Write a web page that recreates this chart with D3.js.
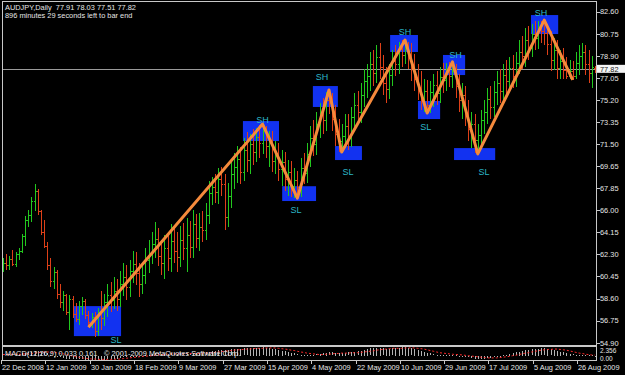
<!DOCTYPE html>
<meta charset="utf-8">
<title>AUDJPY,Daily</title>
<style>

body {
  margin: 0;
  background: #000;
}

svg {
  display: block;
  font-family: "Liberation Sans", Arial, sans-serif;
}

.lbl {
  font-size: 7.4px;
  fill: #e6e6e6;
}

.small {
  font-size: 6.5px;
  fill: #e6e6e6;
}

.bars rect,
.hist rect,
.frame {
  shape-rendering: crispEdges;
}

.swing-label {
  font-size: 9px;
  fill: #2cb6c8;
  text-anchor: middle;
}

</style>
<svg width="625" height="375"></svg>
<script src="https://cdnjs.cloudflare.com/ajax/libs/d3/7.8.5/d3.min.js"></script>
<script>

var headerTitle = "AUDJPY,Daily";
var headerQuote = "77.91 78.03 77.51 77.82";
var headerTimer = "896 minutes 29 seconds left to bar end";
var macdTitle = "MACD(12,26,9) 0.033 0.161";
var copyrightText = "\u00a9 2001-2009 MetaQuotes Software Corp.";

// daily bars, 22 Dec 2008 .. early Sep 2009
var opens = [
  61.3,61.6,61.4,61.9,61.5,62.3,62.6,63.8,65.2,65.6,
  66.8,67.6,65.9,64.2,63.0,61.4,60.1,60.8,59.0,58.3,
  58.9,57.5,58.6,57.3,56.9,58.0,58.4,57.2,56.6,57.1,
  55.9,57.3,57.0,58.3,58.9,58.5,59.2,58.6,59.8,60.4,
  59.6,60.9,61.5,60.7,59.8,60.6,61.8,62.4,63.2,63.6,
  62.2,61.6,62.8,62.0,63.4,62.6,62.1,63.5,62.8,63.9,
  62.9,64.8,63.7,64.6,64.3,65.6,67.4,67.9,67.5,68.6,
  68.2,65.4,67.2,69.0,69.6,70.3,69.2,71.0,70.2,71.5,
  70.9,72.1,71.6,72.6,71.4,71.8,70.1,70.8,69.4,70.0,
  68.6,69.2,68.0,68.5,67.9,69.5,69.1,70.7,72.0,71.5,
  73.2,74.0,73.5,75.2,75.0,73.6,72.4,71.8,72.2,73.0,
  72.1,73.8,74.8,74.2,75.6,76.8,77.2,78.2,77.5,78.8,
  78.0,76.6,76.1,77.3,78.5,78.2,79.5,79.0,79.8,78.7,
  77.9,77.0,76.2,75.4,76.0,74.8,75.9,76.5,75.8,77.1,
  76.9,77.7,77.2,77.6,76.4,75.2,75.6,74.0,72.8,73.2,
  71.9,72.3,73.5,74.2,75.3,74.6,75.9,76.6,76.0,77.3,
  76.8,77.9,77.2,78.3,79.2,78.9,80.2,79.6,80.7,80.4,
  81.3,81.0,80.8,79.9,78.6,79.4,77.9,78.5,77.7,77.2,
  77.6,77.2,78.3,78.9,79.2,78.2,77.5,77.91
];
var highs = [
  62.0,62.3,62.2,62.7,62.5,62.8,64.0,65.5,66.0,67.1,
  68.2,67.8,66.0,65.2,63.3,62.0,61.2,61.0,59.8,59.2,
  59.0,58.9,58.8,58.2,58.4,58.7,58.6,57.6,57.4,57.5,
  57.8,59.2,59.0,59.8,60.0,60.4,60.2,60.9,61.6,61.4,
  61.8,62.6,62.5,61.6,61.6,62.8,63.5,64.2,65.0,64.5,
  63.5,63.9,64.0,64.8,64.5,64.2,64.7,64.9,65.3,65.1,
  66.0,65.7,65.8,65.9,66.6,68.4,68.8,69.0,69.5,69.6,
  69.0,68.3,70.0,70.8,71.4,71.3,72.0,72.5,72.4,72.8,
  72.9,73.1,73.2,73.0,72.6,72.6,71.8,71.6,71.0,70.9,
  70.2,70.1,69.5,69.3,70.4,70.8,71.6,73.0,73.5,74.2,
  75.0,75.4,75.9,76.05,75.8,74.8,73.6,73.2,74.0,74.0,
  74.6,75.8,76.0,76.6,77.8,78.2,79.2,79.4,79.8,80.0,
  79.0,78.0,78.2,79.4,79.8,80.1,80.2,80.23,80.1,80.0,
  79.1,78.2,77.6,77.0,76.9,76.8,77.4,77.6,78.0,78.3,
  78.3,78.4,78.4,78.2,77.4,76.6,76.4,75.2,74.2,74.0,
  73.2,74.4,75.2,76.2,76.4,76.8,77.6,77.8,78.2,78.6,
  78.8,79.0,79.2,80.2,80.6,81.2,81.4,81.6,81.8,81.85,
  81.85,81.9,81.6,81.0,80.4,80.2,79.4,79.6,78.8,78.6,
  78.5,79.2,79.8,80.0,79.8,79.4,78.9,78.03
];
var lows = [
  60.8,61.0,61.0,61.3,61.2,61.8,62.4,63.0,64.6,65.0,
  65.9,65.6,63.9,62.8,61.0,59.6,59.4,58.6,57.8,57.6,
  57.2,56.0,57.0,56.6,56.4,57.2,56.9,56.2,56.1,55.4,
  55.5,56.0,56.3,57.1,57.5,57.7,57.6,57.9,58.8,58.5,
  58.7,59.9,59.7,58.7,59.0,59.8,60.7,61.5,62.0,61.3,
  60.6,60.2,60.9,60.8,61.6,60.8,61.2,61.8,60.8,62.0,
  62.0,62.8,62.6,63.3,63.5,64.8,66.4,66.6,66.5,67.2,
  64.3,64.6,66.2,67.8,68.3,68.2,68.4,69.2,69.0,69.8,
  70.0,70.4,70.7,70.4,69.6,69.2,69.0,68.4,68.0,67.6,
  67.2,67.1,67.05,67.0,67.1,68.2,68.3,69.6,70.5,70.6,
  72.0,72.4,72.6,74.0,72.6,71.4,70.9,70.86,71.2,71.0,
  71.3,72.8,73.2,73.3,74.6,75.4,76.0,76.4,76.6,77.0,
  75.6,75.0,75.3,76.4,77.2,77.4,78.0,78.2,77.8,76.8,
  76.0,75.2,74.4,74.2,74.12,74.13,74.6,74.8,75.0,75.8,
  76.0,76.3,76.2,75.4,74.2,73.6,73.0,71.8,71.2,70.8,
  70.7,71.4,72.4,73.2,73.6,73.8,74.8,75.0,75.2,75.6,
  75.9,76.2,76.3,77.4,77.8,78.0,78.6,78.8,79.4,79.5,
  80.0,79.8,79.0,77.6,77.7,77.0,76.95,76.95,76.95,76.95,
  76.9,76.95,77.3,77.8,77.3,76.6,76.2,77.51
];
var closes = [
  61.6,61.4,61.9,61.5,62.3,62.6,63.8,65.2,65.6,66.8,
  67.6,65.9,64.2,63.0,61.4,60.1,60.8,59.0,58.3,58.9,
  57.5,58.6,57.3,56.9,58.0,58.4,57.2,56.6,57.1,55.9,
  57.3,57.0,58.3,58.9,58.5,59.2,58.6,59.8,60.4,59.6,
  60.9,61.5,60.7,59.8,60.6,61.8,62.4,63.2,63.6,62.2,
  61.6,62.8,62.0,63.4,62.6,62.1,63.5,62.8,63.9,62.9,
  64.8,63.7,64.6,64.3,65.6,67.4,67.9,67.5,68.6,68.2,
  65.4,67.2,69.0,69.6,70.3,69.2,71.0,70.2,71.5,70.9,
  72.1,71.6,72.6,71.4,71.8,70.1,70.8,69.4,70.0,68.6,
  69.2,68.0,68.5,67.9,69.5,69.1,70.7,72.0,71.5,73.2,
  74.0,73.5,75.2,75.0,73.6,72.4,71.8,72.2,73.0,72.1,
  73.8,74.8,74.2,75.6,76.8,77.2,78.2,77.5,78.8,78.0,
  76.6,76.1,77.3,78.5,78.2,79.5,79.0,79.8,78.7,77.9,
  77.0,76.2,75.4,76.0,74.8,75.9,76.5,75.8,77.1,76.9,
  77.7,77.2,77.6,76.4,75.2,75.6,74.0,72.8,73.2,71.9,
  72.3,73.5,74.2,75.3,74.6,75.9,76.6,76.0,77.3,76.8,
  77.9,77.2,78.3,79.2,78.9,80.2,79.6,80.7,80.4,81.3,
  81.0,80.8,79.9,78.6,79.4,77.9,78.5,77.7,77.2,77.6,
  77.2,78.3,78.9,79.2,78.2,77.5,78.0,77.82
];

// MACD(12,26,9): main (histogram) and signal
var macdMain = [
  0.4,0.4,0.4,0.4,0.5,0.5,0.6,0.8,0.9,1.1,
  1.3,1.3,1.1,0.9,0.6,0.3,-0.1,-0.2,-0.4,-0.5,
  -0.7,-0.7,-0.8,-0.9,-0.9,-0.9,-1.0,-1.1,-1.1,-1.2,
  -1.1,-1.1,-1.0,-0.9,-0.8,-0.7,-0.7,-0.5,-0.4,-0.3,
  -0.2,-0.1,0.0,0.0,0.0,0.2,0.3,0.5,0.6,0.6,
  0.5,0.5,0.5,0.6,0.6,0.5,0.6,0.6,0.6,0.6,
  0.7,0.7,0.8,0.8,0.9,1.1,1.3,1.4,1.5,1.6,
  1.5,1.5,1.7,1.8,1.9,1.9,2.0,2.0,2.1,2.1,
  2.2,2.2,2.3,2.2,2.1,1.9,1.7,1.5,1.3,1.2,
  1.0,0.8,0.6,0.4,0.3,0.2,0.2,0.3,0.3,0.4,
  0.5,0.6,0.7,0.9,0.9,0.8,0.7,0.7,0.8,0.9,
  1.0,1.1,1.2,1.4,1.6,1.8,2.0,2.1,2.2,2.2,
  2.0,1.9,1.9,2.0,2.1,2.2,2.3,2.356,2.2,2.0,
  1.8,1.5,1.3,1.1,0.8,0.6,0.4,0.3,0.3,0.3,
  0.3,0.2,0.2,0.1,0.0,-0.1,-0.2,-0.4,-0.5,-0.7,
  -0.8,-0.8,-0.7,-0.6,-0.5,-0.4,-0.2,-0.1,0.1,0.3,
  0.5,0.7,0.9,1.1,1.3,1.5,1.6,1.7,1.8,1.9,
  2.0,2.0,1.9,1.7,1.5,1.3,1.1,0.9,0.7,0.5,
  0.4,0.3,0.3,0.3,0.2,0.1,0.05,0.033
];
var macdSignal = [
  0.3,0.3,0.3,0.4,0.4,0.4,0.4,0.5,0.5,0.6,
  0.7,0.8,0.9,1.0,1.0,1.0,0.9,0.8,0.6,0.5,
  0.3,0.1,-0.1,-0.3,-0.4,-0.6,-0.7,-0.8,-0.9,-0.9,
  -1.0,-1.0,-1.0,-1.0,-1.0,-1.0,-0.9,-0.9,-0.8,-0.7,
  -0.6,-0.5,-0.4,-0.3,-0.2,-0.1,-0.1,0.0,0.1,0.2,
  0.3,0.4,0.4,0.5,0.5,0.5,0.5,0.5,0.6,0.6,
  0.6,0.6,0.6,0.7,0.7,0.7,0.8,0.9,1.0,1.1,
  1.2,1.3,1.4,1.5,1.6,1.6,1.7,1.8,1.8,1.9,
  2.0,2.0,2.0,2.1,2.1,2.1,2.1,2.0,1.9,1.8,
  1.7,1.5,1.4,1.2,1.0,0.9,0.7,0.6,0.5,0.4,
  0.3,0.3,0.4,0.4,0.5,0.6,0.6,0.7,0.7,0.7,
  0.8,0.8,0.8,0.9,1.0,1.1,1.2,1.3,1.5,1.6,
  1.7,1.8,1.9,2.0,2.0,2.0,2.0,2.1,2.1,2.1,
  2.1,2.0,1.9,1.8,1.6,1.4,1.2,1.0,0.8,0.7,
  0.6,0.5,0.4,0.3,0.3,0.2,0.1,0.0,-0.1,-0.2,
  -0.3,-0.4,-0.5,-0.6,-0.6,-0.6,-0.6,-0.5,-0.4,-0.3,
  -0.2,0.0,0.1,0.3,0.5,0.7,0.8,1.0,1.2,1.3,
  1.5,1.6,1.7,1.7,1.8,1.8,1.7,1.6,1.5,1.3,
  1.1,0.9,0.7,0.6,0.4,0.3,0.2,0.161
];

// zigzag swing points (bar index, price)
var swingBars   = [27, 82, 93, 103, 107, 127, 134, 142, 150, 171, 180];
var swingPrices = [56.2, 73.2, 67.0, 76.05, 70.86, 80.23, 74.12, 78.4, 70.7, 81.9, 76.9];

// blue swing zones
var zoneKinds = ["SL", "SH", "SL", "SH", "SL", "SH", "SL", "SH", "SL", "SH"];
var zoneFrom  = [22.4, 75.8, 88.2, 97.9, 104.9, 122.3, 131.1, 139.0, 142.5, 166.8];
var zoneTo    = [37.3, 87.2, 98.9, 105.8, 113.4, 131.1, 138.1, 146.0, 155.5, 175.4];
var zoneHigh  = [57.97, 73.45, 68.0, 76.38, 71.36, 80.65, 75.13, 78.98, 71.19, 82.32];
var zoneLow   = [55.46, 71.78, 66.76, 74.63, 70.19, 79.23, 73.62, 77.30, 70.19, 80.73];
var labelBars   = [35.7, 82, 92.6, 100.8, 109, 127, 133.6, 143, 152, 170];
var labelPrices = [55.2, 73.58, 66.0, 77.2, 69.2, 80.9, 72.95, 78.98, 69.2, 82.53];

var priceTicks = [82.60, 80.75, 78.90, 77.05, 75.20, 73.35, 71.50, 69.65, 67.85,
                  66.00, 64.15, 62.30, 60.45, 58.60, 56.75, 54.90];
var lastPrice = 77.82;

var dateLabels = ["22 Dec 2008", "12 Jan 2009", "30 Jan 2009", "18 Feb 2009", "9 Mar 2009",
                  "27 Mar 2009", "15 Apr 2009", "4 May 2009", "22 May 2009", "10 Jun 2009",
                  "29 Jun 2009", "17 Jul 2009", "5 Aug 2009", "26 Aug 2009"];
var dateBars = [0, 14, 28, 42, 56, 70, 84, 98, 112, 126, 140, 154, 168, 182];

var macdMax = 2.356, macdMin = -0.9;


var svg = d3.select("svg"),
    width = +svg.attr("width"),
    height = +svg.attr("height");

var plotLeft = 2, plotRight = 596,
    plotTop = 1, plotBottom = 345,
    subTop = 347, subBottom = 359;

svg.append("rect")
    .attr("width", width)
    .attr("height", height)
    .attr("fill", "#000");

var x = d3.scaleLinear()
    .domain([0, closes.length - 1])
    .range([3, 594.9]);

var y = d3.scaleLinear()
    .domain([54.90, 82.60])
    .range([342.8, 11.7]);

var ym = d3.scaleLinear()
    .domain([macdMin, macdMax])
    .range([subBottom, subTop]);

function px(v) { return Math.round(v); }

var chart = svg.append("g");

// zones
chart.append("g")
    .attr("class", "zones")
  .selectAll("rect")
    .data(zoneKinds)
  .enter().append("rect")
    .attr("x", function(d, i) { return x(zoneFrom[i]); })
    .attr("y", function(d, i) { return y(zoneHigh[i]); })
    .attr("width", function(d, i) { return x(zoneTo[i]) - x(zoneFrom[i]); })
    .attr("height", function(d, i) { return y(zoneLow[i]) - y(zoneHigh[i]); })
    .attr("fill", "#1232f0");

// last price line
chart.append("line")
    .attr("x1", plotLeft)
    .attr("x2", plotRight)
    .attr("y1", px(y(lastPrice)) + 0.5)
    .attr("y2", px(y(lastPrice)) + 0.5)
    .attr("stroke", "#9a9a9a")
    .attr("stroke-width", 1);

// OHLC bars
var bar = chart.append("g")
    .attr("class", "bars")
  .selectAll("g")
    .data(closes)
  .enter().append("g")
    .attr("fill", function(d, i) { return d >= opens[i] ? "#22c81e" : "#de4018"; });

bar.append("rect")
    .attr("x", function(d, i) { return px(x(i)); })
    .attr("y", function(d, i) { return px(y(highs[i])); })
    .attr("width", 1)
    .attr("height", function(d, i) { return Math.max(1, px(y(lows[i])) - px(y(highs[i]))); });

bar.append("rect")
    .attr("x", function(d, i) { return px(x(i)) - 1; })
    .attr("y", function(d, i) { return px(y(opens[i])); })
    .attr("width", 1)
    .attr("height", 1);

bar.append("rect")
    .attr("x", function(d, i) { return px(x(i)) + 1; })
    .attr("y", function(d, i) { return px(y(d)); })
    .attr("width", 1)
    .attr("height", 1);

// zigzag
var zigzag = d3.line()
    .x(function(d) { return x(d); })
    .y(function(d, i) { return y(swingPrices[i]); });

chart.append("path")
    .attr("d", zigzag(swingBars))
    .attr("fill", "none")
    .attr("stroke", "#f58a3c")
    .attr("stroke-width", 3)
    .attr("stroke-linejoin", "round");

// SH / SL labels
chart.append("g")
  .selectAll("text")
    .data(zoneKinds)
  .enter().append("text")
    .attr("class", "swing-label")
    .attr("x", function(d, i) { return x(labelBars[i]); })
    .attr("y", function(d, i) { return y(labelPrices[i]) + 3.3; })
    .text(function(d) { return d; });

// MACD sub window
var sub = svg.append("g");

sub.append("g")
    .attr("class", "hist")
  .selectAll("rect")
    .data(macdMain)
  .enter().append("rect")
    .attr("x", function(d, i) { return px(x(i)); })
    .attr("y", function(d) { return px(Math.min(ym(d), ym(0))); })
    .attr("width", 1)
    .attr("height", function(d) { return Math.max(1, px(Math.abs(ym(d) - ym(0)))); })
    .attr("fill", "#b4b4b4");

var signalLine = d3.line()
    .x(function(d, i) { return x(i); })
    .y(function(d) { return ym(d); });

sub.append("path")
    .attr("d", signalLine(macdSignal))
    .attr("fill", "none")
    .attr("stroke", "#ff2a2a")
    .attr("stroke-width", 1)
    .attr("stroke-dasharray", "2,2");

// frames
svg.append("rect")
    .attr("class", "frame")
    .attr("x", plotLeft + 0.5)
    .attr("y", plotTop + 0.5)
    .attr("width", plotRight - plotLeft)
    .attr("height", plotBottom - plotTop)
    .attr("fill", "none")
    .attr("stroke", "#c8c8c8");

svg.append("rect")
    .attr("class", "frame")
    .attr("x", plotLeft + 0.5)
    .attr("y", plotBottom + 1.5)
    .attr("width", plotRight - plotLeft)
    .attr("height", subBottom - plotBottom - 0.5)
    .attr("fill", "none")
    .attr("stroke", "#c8c8c8");

// price axis
var priceAxis = svg.append("g");

priceAxis.selectAll("line")
    .data(priceTicks)
  .enter().append("line")
    .attr("class", "frame")
    .attr("x1", plotRight + 0.5)
    .attr("x2", plotRight + 3.5)
    .attr("y1", function(d) { return px(y(d)) + 0.5; })
    .attr("y2", function(d) { return px(y(d)) + 0.5; })
    .attr("stroke", "#c8c8c8");

priceAxis.selectAll("text")
    .data(priceTicks)
  .enter().append("text")
    .attr("class", "lbl")
    .attr("x", 600)
    .attr("y", function(d) { return y(d) + 2.7; })
    .text(function(d) { return d.toFixed(2); });

priceAxis.append("rect")
    .attr("x", 597)
    .attr("y", y(lastPrice) - 4)
    .attr("width", 28)
    .attr("height", 8)
    .attr("fill", "#f4f4f4");

priceAxis.append("text")
    .attr("class", "lbl")
    .attr("x", 600)
    .attr("y", y(lastPrice) + 2.7)
    .style("fill", "#202020")
    .text(lastPrice.toFixed(2));

// MACD scale labels
svg.append("text")
    .attr("class", "small")
    .attr("x", 600)
    .attr("y", 353.2)
    .text(macdMax.toFixed(3));

svg.append("text")
    .attr("class", "small")
    .attr("x", 600)
    .attr("y", 360.6)
    .text("0.00");

// date axis
var dateAxis = svg.append("g");

dateAxis.selectAll("line")
    .data(dateBars)
  .enter().append("line")
    .attr("class", "frame")
    .attr("x1", function(d) { return px(x(d)) - 1.5; })
    .attr("x2", function(d) { return px(x(d)) - 1.5; })
    .attr("y1", subBottom + 1)
    .attr("y2", subBottom + 5)
    .attr("stroke", "#c8c8c8");

dateAxis.selectAll("text")
    .data(dateLabels)
  .enter().append("text")
    .attr("class", "lbl")
    .attr("x", function(d, i) { return px(x(dateBars[i])) - 1; })
    .attr("y", 369.5)
    .text(function(d) { return d; });

// header and sub window texts
svg.append("text")
    .attr("class", "lbl")
    .attr("x", 5)
    .attr("y", 9.5)
    .attr("xml:space", "preserve")
    .text(headerTitle + "  " + headerQuote);

svg.append("text")
    .attr("class", "lbl")
    .attr("x", 5)
    .attr("y", 18)
    .text(headerTimer);

svg.append("text")
    .attr("class", "lbl")
    .attr("x", 5)
    .attr("y", 355.5)
    .text(macdTitle);

svg.append("text")
    .attr("class", "lbl")
    .attr("x", 104)
    .attr("y", 355.5)
    .text(copyrightText);

</script>
